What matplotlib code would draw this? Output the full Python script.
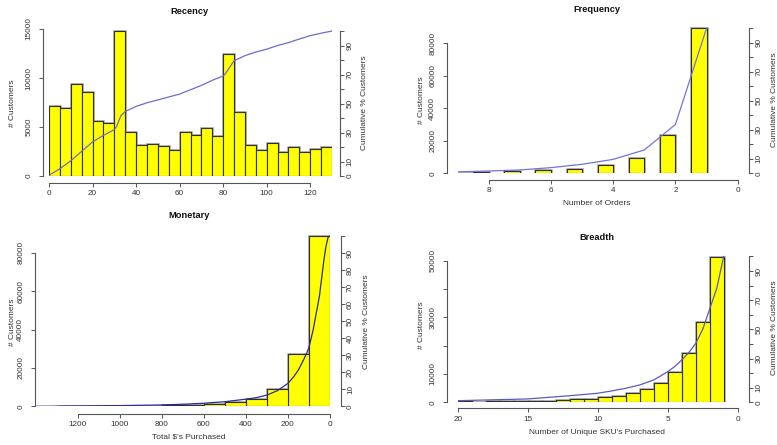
import matplotlib
matplotlib.use('Agg')
import matplotlib.pyplot as plt

plt.rcParams['font.family'] = ['Liberation Sans', 'DejaVu Sans']

# ---- data ----
# Recency: 5-day bins 0..130
rec_left = [0, 5, 10, 15, 20, 25, 30, 35, 40, 45, 50, 55, 60, 65, 70, 75, 80, 85, 90, 95,
            100, 105, 110, 115, 120, 125]
rec_count = [7100, 6950, 9400, 8600, 5650, 5450, 14800, 4500, 3200, 3300, 3050, 2700, 4450,
             4150, 4850, 4100, 12500, 6550, 3200, 2650, 3350, 2500, 3000, 2500, 2800, 3000]
rec_cum_x = [0, 5, 10, 15, 20, 25, 30, 31, 33, 35, 40, 45, 50, 55, 60, 65, 70, 75, 80, 81,
             85, 90, 95, 100, 105, 110, 115, 120, 125, 130]
rec_cum = [0.5, 5, 10.5, 17, 23.5, 28, 32, 34, 41.5, 44.5, 48, 50.5, 52.5, 54.5, 56.5, 59.5,
           62.5, 66, 69, 70.5, 79.5, 83, 85.5, 87.5, 90, 92, 94.5, 96.8, 98.5, 100]

# Frequency: number of orders
frq_left = [1, 2, 3, 4, 5, 6, 7, 8, 8.5]
frq_count = [89500, 23500, 9300, 4900, 2700, 1800, 1200, 800, 300]
frq_cum_x = [9, 8, 7, 6, 5, 4, 3, 2, 1]
frq_cum = [1.0, 1.6, 2.3, 3.9, 6.2, 9.6, 16.1, 33.7, 100]

# Monetary: $100 bins
mon_left = [0, 100, 200, 300, 400, 500, 600, 700, 800, 900, 1000, 1100, 1200]
mon_count = [88700, 27000, 8900, 4000, 2000, 1100, 700, 450, 300, 200, 150, 120, 100]
mon_cum_x = [1400, 1200, 1000, 800, 700, 600, 500, 400, 350, 300, 250, 200, 175, 150, 125,
             110, 100, 80, 65, 50, 40, 30, 20, 10, 5]
mon_cum = [0, 0.2, 0.4, 0.8, 1.2, 1.8, 2.7, 4.2, 5.1, 6.6, 9.2, 13.5, 17, 21.4, 27.5, 31.5,
           34.7, 45, 55, 65, 75, 85, 93.5, 99, 100]

# Breadth: unique SKUs
brd_left = list(range(1, 20))
brd_count = [51400, 28500, 17500, 10600, 6800, 4600, 3200, 2400, 1800, 1300, 1050, 750, 600,
             550, 400, 350, 300, 200, 300]
brd_cum_x = [20, 15, 12, 10, 9, 8, 7, 6, 5, 4.5, 4, 3.5, 3, 2.5, 2, 1.5, 1]
brd_cum = [1.1, 2.3, 4.5, 6.2, 7.8, 9.6, 11.9, 15.3, 21, 24.5, 29, 34, 40.4, 50, 64,
           78, 100]

W, H = 777, 445
fig = plt.figure(figsize=(7.77, 4.45), dpi=100)
PT = 72 / 100.0  # px -> pt


def axes_at(xpx, ypx, xlim, ylim):
    l, r = xpx[0] / W, xpx[1] / W
    b, t = 1 - ypx[0] / H, 1 - ypx[1] / H
    ax = fig.add_axes([l, b, r - l, t - b])
    ax.set_xlim(xlim)
    ax.set_ylim(ylim)
    ax.patch.set_visible(False)
    return ax


def ftext(x, y, s, **kw):
    kw.setdefault('ha', 'center')
    kw.setdefault('va', 'center')
    fig.text(x / W, 1 - y / H, s, **kw)


def draw_bars(ax, lefts, heights, width):
    ax.bar(lefts, heights, width=width, align='edge', color='#ffff00',
           edgecolor='#a0a0a0', linewidth=1.8, zorder=1)
    ax.bar(lefts, heights, width=width, align='edge', color='#ffff00',
           edgecolor='#2e2e2e', linewidth=0.8, zorder=2)


def style(ax, ax2, xticks, yticks, ylabels, rlabels, lo, bo, ro, rtop):
    ac = '#555555'
    for s in ['top', 'right']:
        ax.spines[s].set_visible(False)
    for s in ['top', 'left', 'bottom']:
        ax2.spines[s].set_visible(False)
    ax.spines['left'].set_position(('outward', lo * PT))
    ax.spines['left'].set_bounds(yticks[0], yticks[-1])
    ax.spines['bottom'].set_position(('outward', bo * PT))
    ax.spines['bottom'].set_bounds(min(xticks), max(xticks))
    ax2.spines['right'].set_position(('outward', ro * PT))
    ax2.spines['right'].set_bounds(0, 100)
    for sp in [ax.spines['left'], ax.spines['bottom'], ax2.spines['right']]:
        sp.set_color(ac)
        sp.set_linewidth(0.8)
    ax.set_xticks(xticks)
    ax.set_xticklabels([str(v) for v in xticks])
    ax.set_yticks(yticks)
    ax.set_yticklabels(ylabels, rotation=90, va='center')
    rt = list(range(0, 101, 10))
    ax2.set_ylim(0, rtop)
    ax2.set_yticks(rt)
    ax2.set_yticklabels([str(v) if v in rlabels else '' for v in rt], rotation=90, va='center')
    ax.tick_params(axis='both', length=3, width=0.7, color=ac, labelsize=5.9, labelcolor='#333333')
    ax.tick_params(axis='y', pad=4.5)
    ax.tick_params(axis='x', pad=2.2)
    ax2.tick_params(axis='y', length=3, width=0.7, color=ac, labelsize=5.9,
                    labelcolor='#333333', pad=1.5)


lab = dict(fontsize=6.0, color='#333333')
ttl = dict(fontsize=6.7, fontweight='bold', color='#111111')

# ---- Recency ----
ax = axes_at((49, 332), (176, 29), (0, 130), (0, 15000))
draw_bars(ax, rec_left, rec_count, 5)
ax2 = ax.twinx()
ax2.plot(rec_cum_x, rec_cum, color='#6b6bd0', lw=0.9)
style(ax, ax2, [0, 20, 40, 60, 80, 100, 120], [0, 5000, 10000, 15000],
      ['0', '5000', '10000', '15000'], [0, 10, 30, 50, 70, 90], 6, 7, 8, 101.4)
ftext(189, 12, 'Recency', **ttl)
ftext(13, 103, '# Customers', rotation=90, **lab)
ftext(365, 103, 'Cumulative % Customers', rotation=90, **lab)

# ---- Frequency ----
ax = axes_at((457.7, 737.7), (173.3, 27.05), (9, 0), (0, 90000))
draw_bars(ax, frq_left, frq_count, 0.5)
ax2 = ax.twinx()
ax2.plot(frq_cum_x, frq_cum, color='#7373d8', lw=0.9)
style(ax, ax2, [8, 6, 4, 2, 0], [0, 20000, 40000, 60000, 80000],
      ['0', '20000', '40000', '60000', '80000'], [0, 10, 30, 50, 70, 90], 11, 6.7, 11.6, 100.7)
ftext(597, 9, 'Frequency', **ttl)
ftext(597, 203, 'Number of Orders', **lab)
ftext(421.7, 100, '# Customers', rotation=90, **lab)
ftext(774, 100, 'Cumulative % Customers', rotation=90, **lab)

# ---- Monetary ----
ax = axes_at((35.65, 330), (406.3, 233.5), (1400, 0), (0, 90000))
draw_bars(ax, mon_left, mon_count, 100)
ax2 = ax.twinx()
ax2.plot(mon_cum_x, mon_cum, color='#2a2aa0', lw=0.9)
style(ax, ax2, [1200, 1000, 800, 600, 400, 200, 0], [0, 20000, 40000, 60000, 80000],
      ['0', '20000', '40000', '60000', '80000'], list(range(0, 91, 10)), 1, 7.7, 10.7, 101.6)
ftext(189, 216, 'Monetary', **ttl)
ftext(189, 437, "Total $'s Purchased", **lab)
ftext(13, 322, '# Customers', rotation=90, **lab)
ftext(366, 322, 'Cumulative % Customers', rotation=90, **lab)

# ---- Breadth ----
ax = axes_at((457.7, 737.7), (402.3, 255), (20, 0), (0, 52000))
draw_bars(ax, brd_left, brd_count, 1)
ax2 = ax.twinx()
ax2.plot(brd_cum_x, brd_cum, color='#5a5ac0', lw=0.9)
style(ax, ax2, [20, 15, 10, 5, 0], [0, 10000, 20000, 30000, 40000, 50000],
      ['0', '10000', '', '30000', '', '50000'], [0, 10, 30, 50, 70, 90], 11, 6, 11.6, 101)
ftext(597, 238, 'Breadth', **ttl)
ftext(597, 433, "Number of Unique SKU's Purchased", **lab)
ftext(421.7, 325, '# Customers', rotation=90, **lab)
ftext(774, 328, 'Cumulative % Customers', rotation=90, **lab)

fig.savefig('out.png', dpi=100)
